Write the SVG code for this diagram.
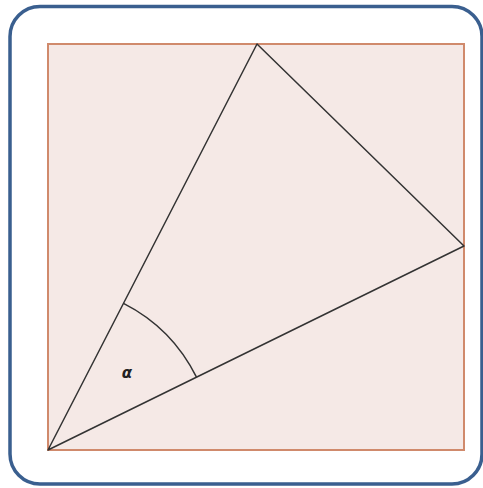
<svg xmlns="http://www.w3.org/2000/svg" width="483" height="488" viewBox="0 0 483 488">
<style>
.frame{fill:#ffffff;stroke:#3a5f8f;stroke-width:3.5}
.sq{fill:#f5e9e6;stroke:#d08a6c;stroke-width:2}
.ln{fill:none;stroke:#333333;stroke-width:1.5;stroke-linejoin:round}
.lbl{font-family:"DejaVu Sans","Liberation Sans",sans-serif;font-size:15px;font-style:italic;font-weight:bold;fill:#222222}
</style>
<rect class="frame" x="10" y="6.5" width="472" height="477.5" rx="30" ry="30"/>
<g id="square"><rect class="sq" x="48" y="44" width="416" height="406"/></g>
<g id="connectors">
<polygon class="ln" points="48,450 257,44 464,246"/>
<path class="ln" d="M123.5,303.3 A165,165 0 0 1 196.5,377.2"/>
</g>
<g id="alpha"><text class="lbl" x="127" y="378" text-anchor="middle">α</text></g>
</svg>
